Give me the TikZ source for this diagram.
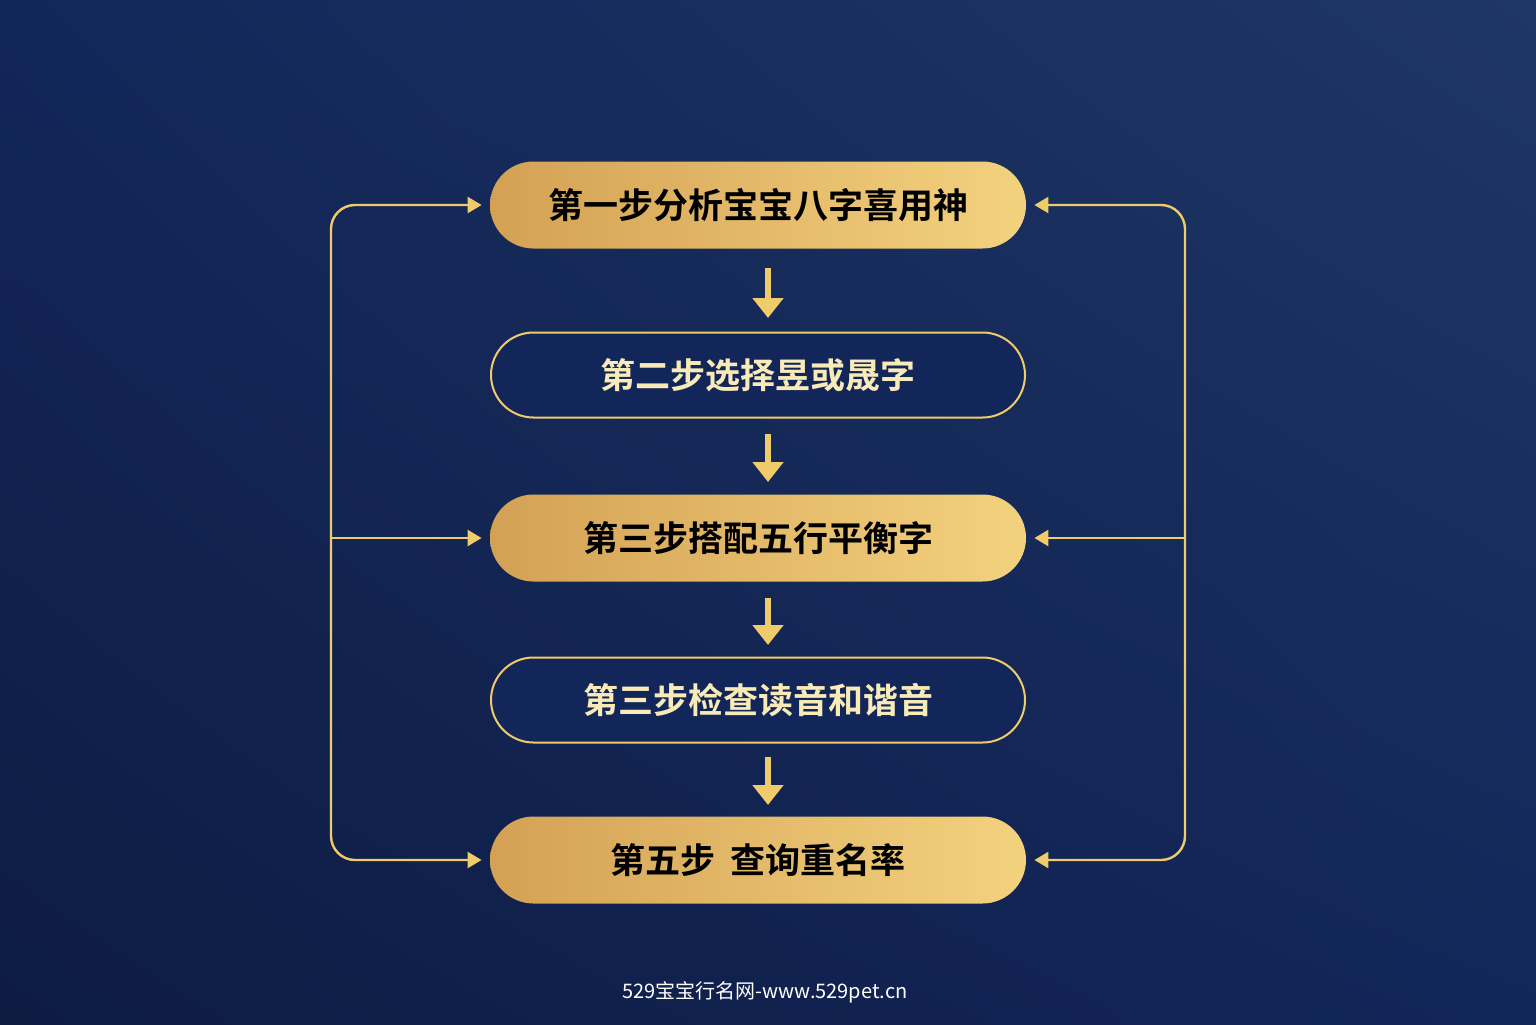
\documentclass[tikz,border=0pt]{standalone}
\usepackage{fontspec}
\setmainfont{Noto Sans CJK SC}
\newfontfamily\cjkbold{Noto Sans CJK SC Bold}
\usetikzlibrary{arrows.meta,shadings}
\definecolor{navyA}{HTML}{0E1C42}
\definecolor{navyB}{HTML}{1F3764}
\definecolor{navyC}{HTML}{13265A}
\definecolor{goldD}{HTML}{D4A154}
\definecolor{goldM}{HTML}{EDC86F}
\definecolor{goldL}{HTML}{F3D27E}
\definecolor{goldLine}{HTML}{EFCB6A}
\definecolor{cream}{HTML}{F8EBB8}
\tikzset{
  goldbox/.style={rectangle, rounded corners=21.75pt, minimum width=268pt, minimum height=43.5pt,
    left color=goldD, middle color=goldM, right color=goldL, draw=none, font=\cjkbold\fontsize{17.5}{20}\selectfont, text=black},
  darkbox/.style={rectangle, rounded corners=21.25pt, minimum width=267pt, minimum height=42.5pt,
    fill=navyC, draw=goldLine, line width=1pt, font=\cjkbold\fontsize{17.5}{20}\selectfont, text=cream},
  downarrow/.style={draw=goldLine, line width=2.6pt, -{Triangle[width=15pt,length=10pt]}},
  sidearrow/.style={draw=goldLine, line width=1.2pt, rounded corners=12pt, -{Triangle[width=8pt,length=7pt]}},
}
\begin{document}
\begin{tikzpicture}[x=0.5pt,y=-0.5pt]
\useasboundingbox (0,0) rectangle (1536,1024);
\shade[upper left=navyC, upper right=navyB, lower left=navyA, lower right=navyC] (0,0) rectangle (1536,1024);

\node[goldbox] (s1) at (758,205) {第一步分析宝宝八字喜用神};
\node[darkbox] (s2) at (758,375) {第二步选择昱或晟字};
\node[goldbox] (s3) at (758,538) {第三步搭配五行平衡字};
\node[darkbox] (s4) at (758,700) {第三步检查读音和谐音};
\node[goldbox] (s5) at (758,860) {第五步\ \ 查询重名率};

\coordinate (a1s) at (768,268);
\coordinate (a1e) at (768,318);
\coordinate (a2s) at (768,434);
\coordinate (a2e) at (768,482);
\coordinate (a3s) at (768,598);
\coordinate (a3e) at (768,645);
\coordinate (a4s) at (768,757);
\coordinate (a4e) at (768,805);
\draw[downarrow] (a1s) -- (a1e);
\draw[downarrow] (a2s) -- (a2e);
\draw[downarrow] (a3s) -- (a3e);
\draw[downarrow] (a4s) -- (a4e);

% left connector
\coordinate (lt) at (331,205);
\coordinate (lm) at (331,538);
\coordinate (lb) at (331,860);
\draw[sidearrow] (lm) -- (lt) -- ([xshift=-4pt]s1.west);
\draw[sidearrow] (lm) -- (lb) -- ([xshift=-4pt]s5.west);
\draw[sidearrow] (lm) -- ([xshift=-4pt]s3.west);
% right connector
\coordinate (rt) at (1185,205);
\coordinate (rm) at (1185,538);
\coordinate (rb) at (1185,860);
\draw[sidearrow] (rm) -- (rt) -- ([xshift=4pt]s1.east);
\draw[sidearrow] (rm) -- (rb) -- ([xshift=4pt]s5.east);
\draw[sidearrow] (rm) -- ([xshift=4pt]s3.east);

\node[text=white, font=\fontsize{10}{12}\selectfont] (foot) at (765,992) {529宝宝行名网-www.529pet.cn};
\end{tikzpicture}
\end{document}
